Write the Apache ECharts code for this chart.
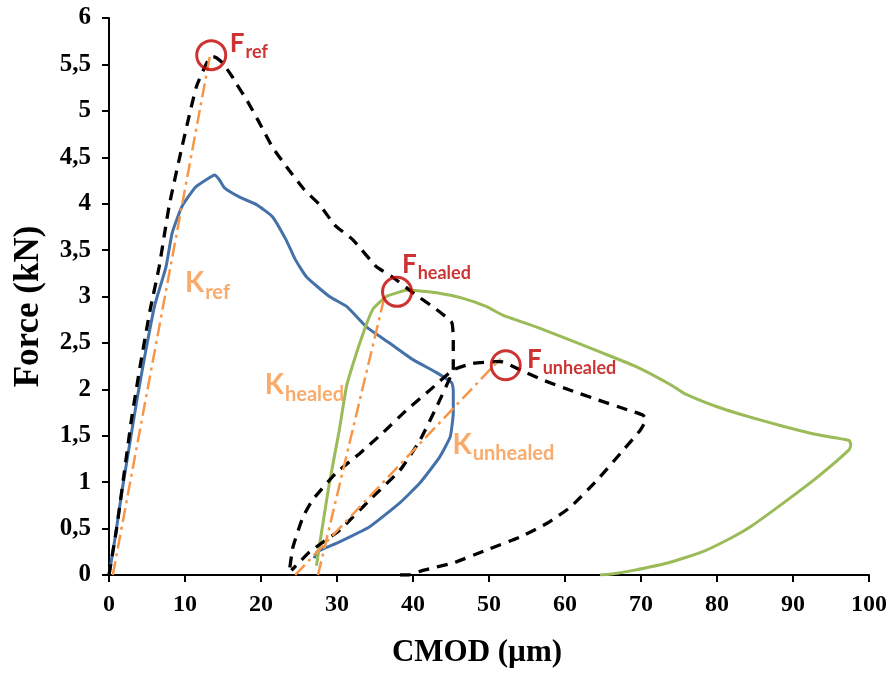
<!DOCTYPE html>
<html>
<head>
<meta charset="utf-8">
<script src="https://cdn.jsdelivr.net/npm/echarts@6/dist/echarts.min.js"></script>
<style>
  html, body { margin: 0; padding: 0; background: #fff; }
  #chart { width: 895px; height: 675px; }
</style>
</head>
<body>
<div id="chart"></div>
<script>
// CMOD (µm) / Force (kN) pairs
const refCurve = [
  [0, 0], [1, 0.5], [2, 1.1], [3, 1.7], [4.2, 2.3], [5.4, 2.85], [6.6, 3.32], [7.9, 3.97],
  [9.6, 4.61], [11.5, 5.26], [13.2, 5.57], [13.9, 5.58], [14.9, 5.52], [16.2, 5.37], [16.7, 5.3],
  [18.1, 5.12], [19.8, 4.87], [21.5, 4.61], [23.7, 4.36], [25.7, 4.15], [27.7, 3.99], [29.7, 3.77],
  [32.1, 3.61], [35.2, 3.32], [37.3, 3.21], [40, 3.04], [43.1, 2.86], [45.1, 2.72], [45.3, 2.53],
  [45.3, 2.22], [44.9, 2.13], [43.1, 1.81], [40.9, 1.45], [38.3, 1.13], [34.7, 0.84], [30.3, 0.48],
  [26.4, 0.25], [24.6, 0.1], [24.0, 0.05]
];
const unhealedCurve = [
  [23.8, 0.08], [24.2, 0.3], [25.5, 0.62], [26.8, 0.81], [29.9, 1.1], [33, 1.31], [36, 1.53],
  [39.2, 1.78], [42.2, 1.99], [45.3, 2.21], [47.9, 2.28], [51.5, 2.3], [54.1, 2.21], [57.1, 2.1],
  [60.7, 1.99], [64.2, 1.89], [68.2, 1.78], [70.3, 1.72], [70.6, 1.67], [69.9, 1.56], [67.3, 1.31],
  [64.2, 1.02], [60.7, 0.73], [57.7, 0.56], [54.1, 0.41], [49.7, 0.27], [45.3, 0.13], [41.3, 0.05],
  [39.4, 0], [38.1, 0]
];
const blueCurve = [
  [0, 0], [0.8, 0.4], [1.7, 0.9], [2.7, 1.4], [3.7, 1.9], [4.8, 2.4], [6, 2.9], [7.5, 3.32],
  [8.3, 3.68], [9.6, 3.97], [11.4, 4.18], [13.2, 4.28], [13.9, 4.31], [14.5, 4.26], [15.2, 4.17],
  [17.2, 4.07], [19.4, 3.99], [21.5, 3.86], [23.3, 3.61], [24.5, 3.4], [26, 3.21], [29, 3.0],
  [31.3, 2.89], [33.9, 2.67], [36.9, 2.5], [40, 2.32], [43.1, 2.18], [45.1, 2.07], [45.3, 1.99],
  [45.3, 1.75], [44.9, 1.49], [43.5, 1.27], [40.9, 0.99], [38.3, 0.78], [34.3, 0.52], [29.9, 0.34],
  [27.4, 0.25], [27, 0.18]
];
const greenCurve = [
  [27.3, 0.1], [28, 0.48], [29, 0.99], [30.3, 1.56], [31.3, 2.05], [33, 2.5], [34.7, 2.86],
  [36.5, 3.0], [38.3, 3.05], [39.2, 3.07], [40.9, 3.06], [43.1, 3.04], [46.6, 2.98], [49.7, 2.89],
  [51.8, 2.8], [56.3, 2.67], [60.7, 2.53], [65, 2.39], [69.5, 2.24], [73.9, 2.05], [75.6, 1.96],
  [80.1, 1.81], [84.4, 1.7], [88.8, 1.6], [93.3, 1.51], [97.4, 1.45], [97.6, 1.4], [97.4, 1.35],
  [93.3, 1.06], [88.8, 0.78], [84.4, 0.52], [81.4, 0.38], [77.8, 0.24], [73.5, 0.13], [69, 0.05],
  [66.9, 0.02], [64.6, 0]
];
// stiffness lines (dash-dot)
const kRef = [[0.5, 0], [13.3, 5.6]];
const kHealed = [[27.5, 0], [36.2, 2.98]];
const kUnhealed = [[24.5, 0], [51.5, 2.33]];
// peak forces (red circles)
const peaks = [[13.45, 5.6], [37.9, 3.05], [52.2, 2.26]];

// annotations: [x, y, main letter, subscript]
const fLabels = [[15.9, 5.53, 'F', 'ref'], [38.55, 3.15, 'F', 'healed'], [55.0, 2.13, 'F', 'unhealed']];
const kLabels = [[10.0, 2.94, 'K', 'ref'], [20.5, 1.84, 'K', 'healed'], [45.2, 1.2, 'K', 'unhealed']];

const xTicks = { min: 0, max: 100, interval: 10 };
const yTicks = { min: 0, max: 6, interval: 0.5 };

const serif = 'Liberation Serif';
const sans = 'Lato';
const red = '#c00000';
const orange = '#f79646';

function curve(data, color, type, width, smooth) {
  return {
    type: 'line', data: data, symbol: 'none', smooth: smooth || false,
    lineStyle: { color: color, width: width, type: type, cap: 'butt' }
  };
}

function labelSeries(list, color, big, small) {
  return {
    type: 'scatter', symbolSize: 0, silent: true, z: 10,
    data: list.map(l => ({ value: [l[0], l[1]], name: l[2] + '|' + l[3] })),
    label: {
      show: true, position: [0, 0], align: 'left', verticalAlign: 'bottom',
      formatter: p => { const s = p.name.split('|'); return '{b|' + s[0] + '}{s|' + s[1] + '}'; },
      rich: {
        b: { fontFamily: sans, fontWeight: 'bold', fontSize: big, color: color, verticalAlign: 'bottom', padding: [0, 1, 5, 0] },
        s: { fontFamily: sans, fontWeight: 'bold', fontSize: small, color: color, verticalAlign: 'bottom' }
      }
    }
  };
}

const chart = echarts.init(document.getElementById('chart'));
chart.setOption({
  animation: false,
  backgroundColor: '#fff',
  grid: { left: 109, right: 26, top: 18, bottom: 100, outerBoundsMode: 'none' },
  xAxis: {
    type: 'value', min: xTicks.min, max: xTicks.max, interval: xTicks.interval,
    name: 'CMOD (µm)', nameLocation: 'middle', nameGap: 62,
    nameTextStyle: { fontFamily: serif, fontWeight: 'bold', fontSize: 31, color: '#000', padding: [0, 24, 0, 0] },
    axisLine: { show: true, onZero: false, lineStyle: { color: '#000', width: 2 } },
    axisTick: { show: true, inside: false, length: 7, lineStyle: { color: '#000', width: 2 } },
    axisLabel: { margin: 18, fontFamily: serif, fontWeight: 'bold', fontSize: 24, color: '#000' },
    splitLine: { show: false }
  },
  yAxis: {
    type: 'value', min: yTicks.min, max: yTicks.max, interval: yTicks.interval,
    name: 'Force (kN)', nameLocation: 'middle', nameGap: 63,
    nameTextStyle: { fontFamily: serif, fontWeight: 'bold', fontSize: 35, color: '#000', padding: [0, 20, 0, 0] },
    axisLine: { show: true, lineStyle: { color: '#000', width: 2 } },
    axisTick: { show: true, inside: false, length: 7, lineStyle: { color: '#000', width: 2 } },
    axisLabel: {
      margin: 18, fontFamily: serif, fontWeight: 'bold', fontSize: 25, color: '#000',
      formatter: v => String(v).replace('.', ',')
    },
    splitLine: { show: false }
  },
  series: [
    curve(blueCurve, '#4472a8', 'solid', 3, 0.15),
    curve(greenCurve, '#9bbb59', 'solid', 3, 0.15),
    curve(refCurve, '#000', [11, 8], 3.3, 0.15),
    curve(unhealedCurve, '#000', [11, 8], 3.3, 0.15),
    curve(kRef, orange, [14, 5, 3, 5], 2.5),
    curve(kHealed, orange, [14, 5, 3, 5], 2.5),
    curve(kUnhealed, orange, [14, 5, 3, 5], 2.5),
    {
      type: 'scatter', data: peaks, symbol: 'circle', symbolSize: 29, z: 5,
      itemStyle: { color: 'rgba(0,0,0,0)', borderColor: red, borderWidth: 3 }
    },
    labelSeries(fLabels, red, 26, 18),
    labelSeries(kLabels, orange, 28, 20)
  ]
});
</script>
</body>
</html>
